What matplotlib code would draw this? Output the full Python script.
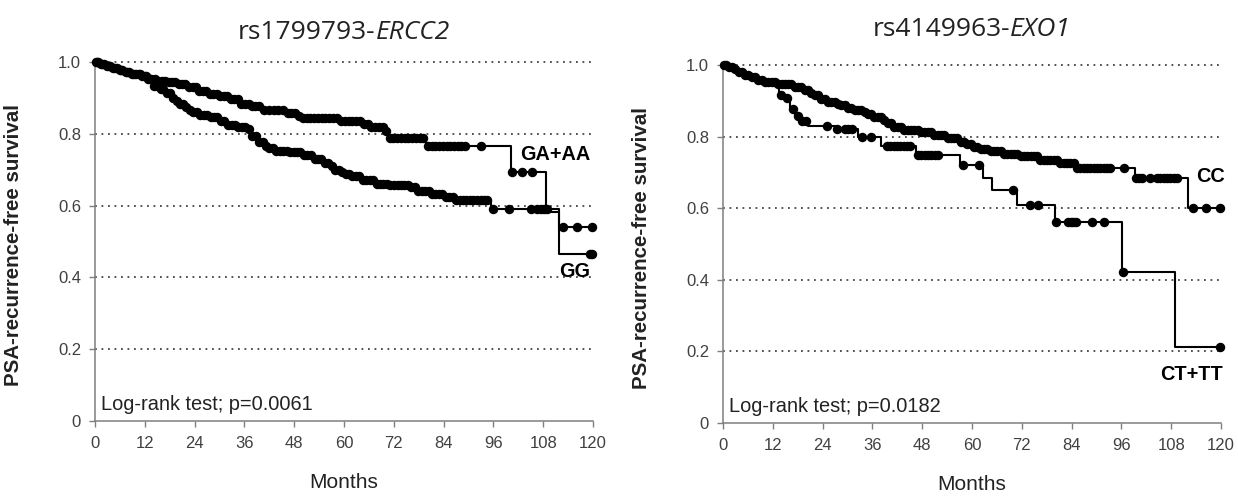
import numpy as np
import matplotlib
matplotlib.use("Agg")
import matplotlib.pyplot as plt

plt.rcParams['font.family'] = ['Liberation Sans', 'DejaVu Sans']

# --- rs1799793-ERCC2 ---
ga_t = [1.0, 2.5, 4.0, 5.5, 7.0, 9.0, 11.0, 12.5, 15.0, 17.2, 19.6, 22.0, 24.5, 26.9, 30.1, 32.5,
        34.9, 37.3, 39.7, 46.1, 48.5, 50.1, 59.0, 64.8, 66.5, 69.6, 70.6, 79.8, 100.2, 108.7, 111.8]
ga_s = [0.995, 0.99, 0.984, 0.978, 0.972, 0.966, 0.96, 0.954, 0.947, 0.943, 0.938, 0.931, 0.919, 0.91,
        0.905, 0.896, 0.884, 0.877, 0.866, 0.859, 0.85, 0.843, 0.836, 0.827, 0.818, 0.808, 0.787,
        0.765, 0.694, 0.582, 0.541]
ga_cens = [0.3, 0.8, 1.5, 2.2, 3.0, 3.6, 4.4, 5.2, 6.0, 6.6, 7.4, 8.2, 9.0, 9.8, 10.5, 11.3, 12.0,
           12.8, 13.6, 14.4, 15.3, 16.1, 16.9, 17.8, 18.6, 19.3, 20.2, 21.0, 21.8, 22.7, 23.5, 24.3,
           25.1, 26.0, 26.8, 27.7, 28.5, 29.3, 30.2, 31.0, 31.8, 32.8, 33.6, 34.4, 35.3, 36.1, 37.0,
           37.8, 38.6, 39.5, 40.8, 42.0, 43.1, 44.2, 45.3, 46.4, 47.3, 48.2, 49.1, 50.2, 51.0, 51.9,
           52.8, 53.7, 54.6, 55.5, 56.4, 57.3, 58.2, 59.3, 60.2, 61.1, 62.0, 62.9, 63.8, 64.9, 65.7,
           66.6, 67.5, 68.4, 69.3, 70.2, 71.0, 71.9, 72.8, 73.7, 74.6, 75.5, 76.4, 77.3, 78.2, 79.1,
           80.2, 81.1, 82.0, 82.9, 83.8, 84.7, 85.6, 86.5, 87.4, 88.3, 89.2, 93.0, 100.6, 103.0,
           105.4, 112.8, 116.2, 119.8]

gg_t = [1.0, 2.5, 4.0, 5.5, 7.0, 9.0, 11.0, 12.5, 13.9, 15.1, 16.7, 18.3, 19.5, 20.3, 21.5, 22.3,
        23.5, 24.7, 27.2, 29.6, 32.0, 34.4, 36.4, 37.6, 39.2, 40.8, 42.0, 43.2, 46.4, 49.6, 52.8,
        55.3, 56.5, 57.7, 59.3, 60.1, 61.7, 64.1, 67.2, 70.8, 76.1, 77.8, 81.0, 84.1, 86.5, 95.4, 111.8]
gg_s = [0.995, 0.99, 0.984, 0.978, 0.972, 0.966, 0.96, 0.954, 0.933, 0.924, 0.915, 0.901, 0.892,
        0.882, 0.874, 0.867, 0.86, 0.852, 0.846, 0.836, 0.824, 0.82, 0.813, 0.794, 0.778, 0.767,
        0.76, 0.753, 0.748, 0.741, 0.73, 0.72, 0.711, 0.70, 0.693, 0.688, 0.683, 0.671, 0.66,
        0.656, 0.651, 0.642, 0.632, 0.623, 0.616, 0.591, 0.464]
gg_cens = [0.5, 1.8, 3.3, 4.8, 6.3, 7.8, 9.4, 10.9, 12.4, 13.3, 14.2, 15.0, 15.8, 16.5, 17.3, 18.0,
           18.9, 19.7, 20.5, 21.3, 22.0, 22.9, 23.7, 24.5, 25.4, 26.2, 27.0, 27.9, 28.7, 29.5, 30.4,
           31.2, 32.0, 32.9, 33.7, 34.5, 35.4, 36.2, 37.0, 37.9, 38.7, 39.5, 40.4, 41.2, 42.0, 42.9,
           43.7, 44.5, 45.4, 46.2, 47.0, 47.9, 48.7, 49.5, 50.4, 51.2, 52.0, 52.9, 53.7, 54.5, 55.4,
           56.2, 57.0, 57.9, 58.7, 59.5, 60.4, 61.2, 62.0, 62.9, 63.7, 64.5, 65.4, 66.2, 67.0, 67.9,
           68.7, 69.5, 70.4, 71.2, 72.0, 72.9, 73.7, 74.5, 75.4, 76.2, 77.0, 77.9, 78.7, 79.5, 80.4,
           81.2, 82.0, 82.9, 83.7, 84.5, 85.4, 86.2, 87.0, 87.9, 88.7, 89.5, 90.4, 91.2, 92.0, 92.9,
           93.7, 94.5, 95.8, 99.8, 105.0, 106.6, 107.4, 108.2, 109.0, 119.2, 119.8]

# --- rs4149963-EXO1 ---
cc_t = [1.0, 2.5, 3.6, 5.0, 6.8, 8.5, 10.0, 13.2, 17.3, 19.7, 21.0, 22.0, 23.5, 25.3, 27.0, 28.5,
        30.0, 31.7, 33.5, 34.9, 36.5, 38.2, 39.5, 40.6, 43.0, 47.0, 50.2, 53.4, 56.6, 58.5, 59.8,
        62.0, 64.3, 67.5, 71.6, 76.4, 81.2, 85.3, 99.3, 112.0]
cc_s = [0.995, 0.99, 0.98, 0.973, 0.966, 0.959, 0.952, 0.946, 0.938, 0.929, 0.922, 0.915, 0.905,
        0.896, 0.891, 0.887, 0.88, 0.873, 0.868, 0.864, 0.855, 0.846, 0.837, 0.828, 0.818, 0.814,
        0.804, 0.795, 0.786, 0.778, 0.77, 0.766, 0.76, 0.752, 0.745, 0.735, 0.725, 0.711, 0.684, 0.60]
cc_cens = [0.3, 0.8, 1.5, 2.2, 3.0, 3.8, 4.5, 5.3, 6.1, 6.9, 7.7, 8.5, 9.3, 10.1, 10.9, 11.7, 12.5,
           13.3, 14.1, 14.9, 15.7, 16.5, 17.3, 18.1, 18.9, 19.7, 20.5, 21.3, 22.1, 22.9, 23.7, 24.5,
           25.3, 26.1, 26.9, 27.7, 28.5, 29.3, 30.1, 30.9, 31.7, 32.5, 33.3, 34.1, 34.9, 35.7, 36.5,
           37.3, 38.1, 38.9, 39.7, 40.5, 41.3, 42.1, 42.9, 43.7, 44.5, 45.3, 46.1, 46.9, 47.7, 48.5,
           49.3, 50.1, 50.9, 51.7, 52.5, 53.3, 54.1, 54.9, 55.7, 56.5, 57.3, 58.1, 58.9, 59.7, 60.5,
           61.3, 62.1, 62.9, 63.7, 64.5, 65.3, 66.1, 66.9, 67.7, 68.5, 69.3, 70.1, 70.9, 71.7, 72.5,
           73.3, 74.1, 74.9, 75.7, 76.5, 77.3, 78.1, 78.9, 79.7, 80.5, 81.3, 82.1, 82.9, 83.7, 84.5,
           85.3, 86.1, 86.9, 87.7, 88.5, 89.3, 90.1, 90.9, 91.7, 92.5, 93.3, 96.7, 99.6, 100.3,
           101.0, 103.0, 104.6, 105.4, 106.2, 107.0, 107.8, 108.6, 109.4, 113.2, 116.4, 119.8]

ct_t = [1.0, 2.5, 3.6, 5.0, 6.8, 8.5, 10.0, 13.6, 15.0, 16.2, 17.4, 18.6, 20.5, 26.9, 32.5, 38.0,
        46.6, 57.0, 62.7, 64.8, 70.8, 80.0, 96.1, 108.9]
ct_s = [0.995, 0.99, 0.98, 0.973, 0.966, 0.959, 0.945, 0.917, 0.908, 0.876, 0.858, 0.844, 0.83,
        0.82, 0.80, 0.774, 0.748, 0.72, 0.683, 0.651, 0.609, 0.562, 0.423, 0.213]
ct_cens = [14.0, 15.5, 16.8, 18.0, 19.0, 20.0, 25.0, 27.4, 29.4, 30.2, 31.0, 33.6, 35.6, 39.5, 40.3,
           41.1, 41.9, 42.7, 43.5, 44.3, 45.0, 47.0, 47.8, 48.6, 49.4, 50.2, 51.0, 51.8, 57.8, 61.8,
           69.9, 74.0, 75.9, 80.3, 83.2, 83.8, 84.4, 85.0, 88.8, 91.8, 96.5, 119.8]

x_ticks = [0, 12, 24, 36, 48, 60, 72, 84, 96, 108, 120]
y_ticks = [0, 0.2, 0.4, 0.6, 0.8, 1.0]
y_labels = ['0', '0.2', '0.4', '0.6', '0.8', '1.0']


def km_curve(ax, t, s, cens):
    xs = [0] + t + [120]
    ys = [1.0] + s + [s[-1]]
    ax.step(xs, ys, where='post', color='black', lw=1.5, clip_on=False, zorder=3)
    idx = np.searchsorted(t, cens, side='right') - 1
    s_arr = np.array([1.0] + s)
    cs = s_arr[idx + 1]
    ax.plot(cens, cs, 'o', color='black', ms=5.8, clip_on=False, zorder=4)


def setup(ax, ptext):
    ax.set_xlim(0, 120)
    ax.set_ylim(0, 1.0)
    for sp in ['top', 'right']:
        ax.spines[sp].set_visible(False)
    for sp in ['left', 'bottom']:
        ax.spines[sp].set_color('#7f7f7f')
        ax.spines[sp].set_linewidth(1.1)
    ax.hlines(y_ticks[1:], 0, 120, colors='#444444', linestyles=(0, (1, 2.6)), lw=1.3,
              clip_on=False, zorder=1)
    ax.set_xticks(x_ticks)
    ax.set_yticks(y_ticks)
    ax.set_yticklabels(y_labels)
    ax.tick_params(axis='both', direction='out', length=4, width=1, color='#7f7f7f',
                   labelsize=12, labelcolor='#404040')
    ax.tick_params(axis='x', pad=7)
    ax.tick_params(axis='y', pad=6)
    ax.set_ylabel('PSA-recurrence-free survival', fontsize=14.8, fontweight='bold', color='#222222')
    ax.yaxis.set_label_coords(-0.145, 0.49)
    ax.text(0.5, -0.172, 'Months', transform=ax.transAxes, ha='center', va='center',
            fontsize=15, color='#222222')
    ax.text(1.5, 0.03, ptext, fontsize=14.4, color='#222222', va='baseline')


def add_title(ax, pre, gene, ty):
    r = fig.canvas.get_renderer()
    kw = dict(transform=ax.transAxes, va='baseline', fontsize=19, family='Open Sans',
              color='#222222')
    t1 = ax.text(0.5, ty, pre, ha='left', **kw)
    t2 = ax.text(0.5, ty, gene, ha='left', style='italic', **kw)
    w1 = t1.get_window_extent(r).width
    w2 = t2.get_window_extent(r).width
    axw = ax.get_window_extent(r).width
    x0 = 0.5 - (w1 + w2) / 2 / axw
    t1.set_x(x0)
    t2.set_x(x0 + w1 / axw)


fig = plt.figure(figsize=(12.38, 4.96), dpi=100)
ax1 = fig.add_axes([95 / 1238, 1 - 421 / 496, 498 / 1238, 359 / 496])
ax2 = fig.add_axes([723 / 1238, 1 - 423 / 496, 498 / 1238, 358 / 496])

km_curve(ax1, ga_t, ga_s, ga_cens)
km_curve(ax1, gg_t, gg_s, gg_cens)
setup(ax1, 'Log-rank test; p=0.0061')
add_title(ax1, 'rs1799793-', 'ERCC2', 1.064)
ax1.text(119.3, 0.727, 'GA+AA', ha='right', va='baseline', fontsize=14.3, fontweight='bold')
ax1.text(119.3, 0.40, 'GG', ha='right', va='baseline', fontsize=14.3, fontweight='bold')

km_curve(ax2, cc_t, cc_s, cc_cens)
km_curve(ax2, ct_t, ct_s, ct_cens)
setup(ax2, 'Log-rank test; p=0.0182')
add_title(ax2, 'rs4149963-', 'EXO1', 1.081)
ax2.text(121, 0.674, 'CC', ha='right', va='baseline', fontsize=14.3, fontweight='bold')
ax2.text(120.5, 0.12, 'CT+TT', ha='right', va='baseline', fontsize=14.3, fontweight='bold')

fig.savefig('out.png', dpi=100)
